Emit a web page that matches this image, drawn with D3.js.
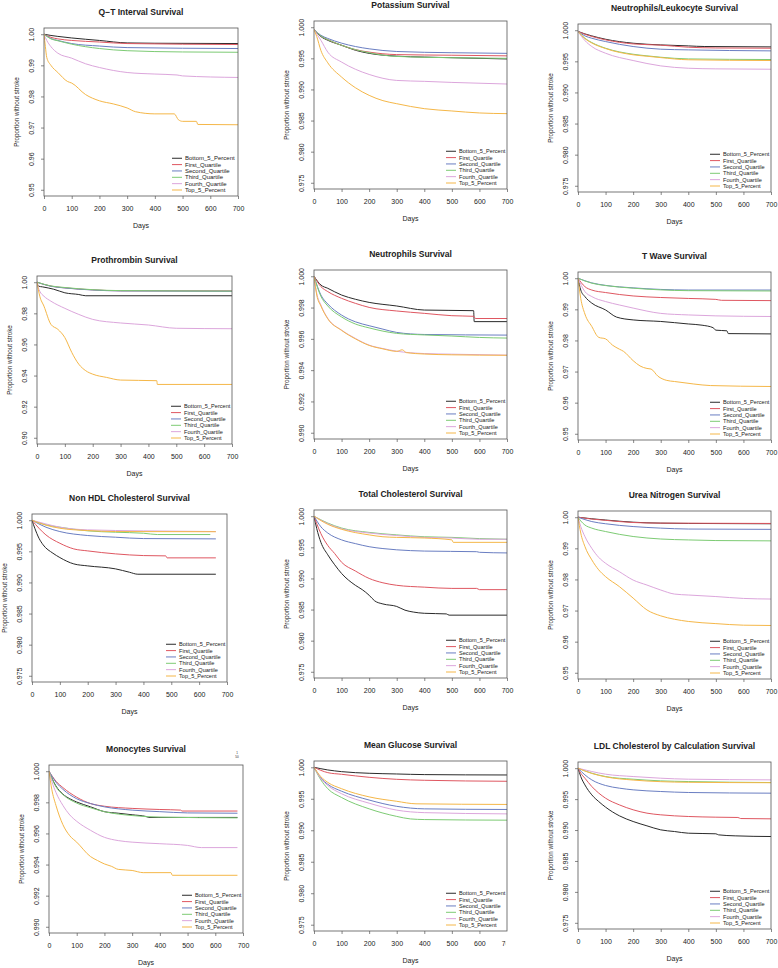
<!DOCTYPE html>
<html>
<head>
<meta charset="utf-8">
<script src="https://cdn.jsdelivr.net/npm/d3@7"></script>
<style>
  body { margin: 0; background: #fff; }
  text { font-family: "Liberation Sans", Arial, Helvetica, sans-serif; fill: #222; }
</style>
</head>
<body>
<div id="chart"></div>
<script>
// Groups and panel labels
const groups = ["Bottom_5_Percent", "First_Quartile", "Second_Quartile", "Third_Quartile", "Fourth_Quartile", "Top_5_Percent"];
const panelTitles = [
  "Q\u2212T Interval Survival", "Potassium Survival", "Neutrophils/Leukocyte Survival",
  "Prothrombin Survival", "Neutrophils Survival", "T Wave Survival",
  "Non HDL Cholesterol Survival", "Total Cholesterol Survival", "Urea Nitrogen Survival",
  "Monocytes Survival", "Mean Glucose Survival", "LDL Cholesterol by Calculation Survival"
];
const xTicks = [0, 100, 200, 300, 400, 500, 600, 700];
const yLimits = [[0.95, 1], [0.975, 1], [0.975, 1], [0.90, 1], [0.99, 1], [0.95, 1],
                 [0.975, 1], [0.975, 1], [0.95, 1], [0.99, 1], [0.975, 1], [0.975, 1]];
const yTickSteps = [0.01, 0.005, 0.005, 0.02, 0.002, 0.01, 0.005, 0.005, 0.01, 0.002, 0.005, 0.005];

// Survival curves: [day, proportion] per group, in the order of `groups`
const qtInterval = [
  [[0,1],[25,.9996],[50,.9993],[100,.9988],[200,.998],[300,.9972],[400,.9971],[700,.997]],
  [[0,1],[25,.999],[50,.9985],[100,.998],[200,.9975],[300,.997],[700,.9967]],
  [[0,1],[25,.9986],[50,.998],[100,.997],[200,.9962],[300,.9957],[700,.9954]],
  [[0,1],[25,.9985],[50,.9979],[100,.9968],[200,.9954],[300,.9947],[500,.9943],[700,.9942]],
  [[0,1],[10,.998],[25,.996],[50,.9939],[100,.9923],[150,.9905],[200,.9893],[300,.9877],[400,.9872],[480,.9869],[500,.9866],[700,.9861]],
  [[0,1],[5,.996],[10,.9925],[25,.99],[50,.9877],[85,.9848],[100,.9843],[150,.9806],[200,.9786],[250,.9776],[300,.9763],[330,.9751],[400,.9744],[470,.9744],[485,.9725],[500,.972],[550,.972],[555,.971],[700,.9709]]
];
const potassium = [
  [[0,.9996],[25,.9985],[50,.9979],[100,.9971],[150,.9963],[200,.9958],[300,.99535],[400,.9952],[500,.9951],[700,.9949]],
  [[0,.9996],[25,.9986],[50,.998],[100,.9971],[150,.9964],[200,.996],[300,.9956],[500,.9955],[700,.9954]],
  [[0,.9996],[25,.9987],[50,.9982],[100,.99744],[150,.9969],[200,.99653],[300,.9961],[500,.9959],[700,.9958]],
  [[0,.9996],[25,.9986],[50,.998],[100,.9971],[150,.9964],[200,.9959],[300,.9953],[500,.9951],[700,.995]],
  [[0,.9996],[25,.9979],[50,.996],[100,.9944],[150,.99325],[200,.99241],[300,.99145],[400,.9913],[500,.99113],[700,.99087]],
  [[0,.9996],[10,.9985],[25,.99626],[50,.99428],[100,.99199],[150,.99028],[200,.98905],[250,.9882],[300,.98771],[400,.98691],[500,.98654],[600,.98622],[700,.98611]]
];
const neutroLeuko = [
  [[0,.9998],[25,.99941],[50,.99909],[100,.99855],[200,.99791],[300,.99764],[400,.99748],[460,.99738],[700,.99732]],
  [[0,.9998],[25,.99935],[50,.999],[100,.99845],[200,.9978],[300,.9976],[400,.99727],[500,.99715],[700,.99711]],
  [[0,.9998],[25,.99909],[50,.99871],[100,.99818],[200,.99738],[300,.99695],[400,.99684],[700,.99668]],
  [[0,.9998],[25,.99871],[50,.99802],[100,.99711],[200,.99614],[250,.99588],[300,.99566],[400,.99539],[700,.99529]],
  [[0,.9998],[25,.99834],[50,.99738],[100,.9963],[200,.99513],[300,.99427],[400,.99389],[500,.99379],[700,.99373]],
  [[0,.9998],[25,.99865],[50,.99795],[100,.99705],[200,.99605],[250,.99582],[300,.9956],[400,.99525],[700,.99513]]
];
const prothrombin = [
  [[0,1],[5,.9975],[20,.997],[60,.9955],[100,.9932],[150,.9921],[175,.9913],[700,.9913]],
  [[0,1],[50,.9975],[100,.9964],[200,.9951],[300,.9945],[700,.9944]],
  [[0,1],[50,.9974],[100,.9963],[200,.995],[300,.9944],[700,.9942]],
  [[0,1],[50,.9976],[100,.9966],[200,.9952],[300,.9946],[700,.9943]],
  [[0,1],[5,.9965],[10,.9942],[25,.991],[50,.9878],[100,.9832],[150,.9793],[200,.9761],[300,.9738],[400,.9725],[500,.9704],[700,.9701]],
  [[0,1],[10,.991],[25,.9846],[50,.9729],[75,.9697],[100,.9644],[125,.9548],[150,.9473],[175,.9431],[200,.9409],[250,.9388],[300,.9371],[430,.9367],[432,.9343],[700,.9343]]
];
const neutrophils = [
  [[0,1],[25,.99944],[50,.99923],[100,.9988],[150,.99853],[200,.99833],[300,.9981],[400,.99784],[579,.9978],[581,.9971],[700,.9971]],
  [[0,1],[25,.99934],[50,.99902],[100,.99859],[150,.99827],[200,.99801],[300,.99778],[400,.99763],[500,.99748],[580,.99744],[585,.9973],[700,.9973]],
  [[0,1],[25,.9988],[50,.99823],[100,.99752],[150,.99709],[200,.99684],[250,.99662],[300,.99641],[400,.99628],[700,.99624]],
  [[0,1],[25,.99872],[50,.9981],[100,.9974],[150,.99695],[200,.9967],[300,.99635],[400,.99625],[500,.99618],[600,.99609],[700,.99605]],
  [[0,1],[10,.9989],[25,.99816],[50,.99731],[100,.99656],[150,.99603],[200,.9956],[250,.99538],[300,.99521],[400,.99506],[500,.99502],[700,.99496]],
  [[0,1],[10,.9988],[25,.9981],[50,.99728],[100,.99654],[150,.996],[200,.99558],[250,.99536],[300,.9952],[320,.9953],[335,.99512],[400,.99503],[500,.99498],[700,.99495]]
];
const tWave = [
  [[0,1],[10,.9962],[25,.9941],[50,.992],[100,.9898],[140,.9875],[200,.9866],[300,.9861],[400,.9853],[450,.9849],[490,.9841],[500,.9833],[540,.9831],[545,.9822],[700,.9821]],
  [[0,1],[25,.9973],[50,.9962],[100,.9954],[200,.9943],[300,.9938],[400,.9935],[500,.9932],[520,.9929],[700,.9928]],
  [[0,1],[50,.9985],[100,.9977],[200,.9969],[300,.9964],[400,.9962],[700,.9962]],
  [[0,1],[50,.9984],[100,.99764],[200,.9968],[300,.99625],[400,.996],[700,.9959]],
  [[0,1],[25,.9957],[50,.9941],[100,.9925],[150,.9914],[200,.9904],[300,.9887],[400,.9882],[500,.9879],[700,.9877]],
  [[0,1],[10,.9935],[25,.9885],[50,.9845],[75,.981],[100,.9805],[125,.9785],[150,.9772],[165,.9765],[200,.9735],[225,.9718],[250,.971],[265,.9708],[290,.9685],[320,.9672],[350,.9668],[420,.966],[480,.9655],[700,.9652]]
];
const nonHdl = [
  [[0,1],[10,.99871],[25,.99711],[40,.99604],[75,.9947],[100,.994],[150,.99298],[200,.99266],[300,.99218],[350,.99164],[380,.99132],[660,.99132]],
  [[0,1],[25,.99871],[50,.99764],[100,.9963],[150,.99539],[200,.99507],[300,.99459],[400,.99432],[480,.99427],[485,.99395],[660,.99395]],
  [[0,1],[25,.9994],[50,.99888],[100,.99818],[200,.99754],[300,.99727],[400,.99705],[660,.997]],
  [[0,1],[50,.99925],[100,.99888],[200,.99829],[300,.99807],[400,.99791],[450,.9977],[640,.9977]],
  [[0,1],[50,.9994],[100,.99888],[200,.99845],[400,.99829],[660,.99818]],
  [[0,1],[50,.9992],[100,.99871],[200,.99834],[300,.99818],[660,.99815]]
];
const totalChol = [
  [[0,1],[10,.998],[25,.9958],[50,.9938],[75,.9922],[100,.9908],[150,.9889],[175,.9882],[200,.9873],[220,.9864],[250,.9859],[300,.9855],[330,.9849],[360,.9846],[400,.9844],[480,.9843],[490,.9841],[700,.9841]],
  [[0,1],[10,.9988],[25,.9972],[50,.9953],[75,.994],[100,.9926],[150,.9912],[200,.99],[250,.9893],[300,.9889],[400,.9886],[500,.9884],[590,.9884],[600,.9882],[700,.9882]],
  [[0,1],[25,.9983],[50,.9973],[100,.9962],[150,.9956],[200,.9951],[250,.9948],[300,.9946],[400,.9944],[590,.9943],[600,.9942],[700,.9941]],
  [[0,1],[50,.9989],[100,.9981],[200,.9974],[300,.997],[400,.9967],[500,.9966],[600,.9964],[700,.9963]],
  [[0,1],[50,.9988],[100,.998],[200,.9973],[300,.9969],[400,.9966],[500,.9965],[600,.9963],[700,.9963]],
  [[0,1],[50,.9987],[100,.9979],[200,.997],[250,.9967],[300,.9966],[400,.9965],[500,.9962],[505,.9958],[700,.9958]]
];
const ureaNitrogen = [
  [[0,1],[50,.9995],[100,.9991],[200,.9984],[300,.9981],[400,.998],[700,.9979]],
  [[0,1],[50,.9994],[100,.999],[200,.9983],[300,.9981],[700,.998]],
  [[0,1],[50,.9986],[100,.9979],[200,.997],[300,.9965],[400,.9962],[700,.9961]],
  [[0,1],[10,.9988],[25,.9975],[50,.9965],[100,.9954],[200,.9938],[300,.993],[400,.9927],[500,.9925],[700,.9924]],
  [[0,1],[10,.997],[25,.9938],[50,.99],[75,.9871],[100,.9852],[150,.9825],[200,.9798],[250,.9782],[300,.9766],[350,.9753],[400,.975],[500,.9745],[600,.9739],[700,.9737]],
  [[0,1],[10,.9949],[25,.9906],[50,.9863],[75,.9831],[100,.9809],[150,.9777],[200,.974],[250,.9702],[300,.9683],[350,.9672],[400,.9665],[500,.9658],[600,.9653],[700,.9652]]
];
const monocytes = [
  [[0,1],[25,.99905],[50,.99853],[75,.99823],[100,.99802],[150,.99771],[200,.9974],[250,.9973],[300,.9972],[350,.99709],[360,.99703],[680,.99703]],
  [[0,1],[25,.99936],[50,.99895],[100,.99833],[150,.99792],[200,.99775],[300,.99761],[400,.99754],[475,.9975],[480,.99744],[680,.99744]],
  [[0,1],[25,.9993],[50,.99884],[100,.99823],[150,.99792],[200,.99771],[300,.9975],[400,.9974],[500,.99732],[680,.9973]],
  [[0,1],[25,.999],[50,.9985],[100,.99795],[150,.99765],[200,.9974],[300,.99715],[400,.99705],[680,.997]],
  [[0,1],[10,.99936],[25,.99864],[50,.99781],[75,.99719],[100,.99678],[150,.9962],[200,.99575],[250,.99554],[300,.99544],[400,.99534],[500,.99523],[550,.99509],[680,.99509]],
  [[0,1],[10,.99884],[25,.99781],[50,.99657],[75,.99585],[100,.99544],[150,.99451],[175,.99426],[200,.99404],[225,.99389],[250,.99369],[300,.99362],[340,.99348],[440,.99348],[445,.99331],[680,.99331]]
];
const meanGlucose = [
  [[0,1],[50,.99958],[100,.99931],[200,.99905],[300,.99894],[400,.99884],[700,.99878]],
  [[0,1],[50,.99915],[100,.99889],[200,.99841],[300,.99809],[400,.99794],[700,.99778]],
  [[0,1],[25,.9983],[50,.9973],[100,.9962],[200,.9948],[300,.9938],[400,.9934],[700,.9933]],
  [[0,1],[25,.998],[50,.9966],[100,.9952],[200,.9934],[300,.9922],[350,.9918],[400,.9917],[700,.9916]],
  [[0,1],[25,.9982],[50,.9971],[100,.9958],[200,.9943],[300,.9932],[400,.9928],[700,.9926]],
  [[0,1],[25,.9985],[50,.9976],[100,.9966],[200,.9953],[300,.9946],[370,.9942],[700,.9941]]
];
const ldlCalc = [
  [[0,1],[10,.99865],[25,.9973],[50,.99569],[75,.99461],[100,.9937],[150,.9923],[200,.99138],[250,.99068],[300,.99003],[350,.98976],[400,.98949],[500,.98939],[510,.98922],[570,.98906],[700,.98895]],
  [[0,1],[10,.99919],[25,.99838],[50,.99704],[100,.99515],[150,.99407],[200,.99327],[250,.99273],[300,.99246],[400,.99219],[500,.99208],[580,.99203],[590,.99186],[700,.99181]],
  [[0,1],[25,.99892],[50,.99811],[100,.9972],[150,.99677],[200,.9965],[300,.99623],[400,.99607],[700,.99596]],
  [[0,1],[50,.99919],[100,.99865],[200,.99822],[300,.99795],[400,.99784],[700,.99768]],
  [[0,1],[50,.99946],[100,.99903],[200,.99865],[300,.99838],[400,.99822],[700,.99811]],
  [[0,1],[50,.99915],[100,.9986],[200,.99808],[300,.99782],[400,.99772],[700,.99765]]
];

const panelData = [qtInterval, potassium, neutroLeuko, prothrombin, neutrophils, tWave,
                   nonHdl, totalChol, ureaNitrogen, monocytes, meanGlucose, ldlCalc];

// Layout: plot box [left, top, right, bottom] for each panel (page pixels)
const boxes = [
  [44, 28, 238, 196], [314, 21, 507, 189], [578, 24, 771, 192],
  [37, 276, 232, 444], [314, 270, 507, 439], [578, 272, 771, 440],
  [32, 514, 227, 682], [314, 510, 507, 678], [578, 511, 771, 679],
  [49, 765, 243, 933], [314, 761, 507, 931], [578, 762, 771, 929]
];
const colors = ["#2a2a2a", "#df5761", "#6a7ec2", "#7dcb74", "#dca6dc", "#f5b748"];

const svg = d3.select("#chart").append("svg")
    .attr("width", 778)
    .attr("height", 968);

panelData.forEach((series, i) => drawPanel(series, i));

function drawPanel(series, i) {
    const [x0, y0, x1, y1] = boxes[i];
    const [lo, hi] = yLimits[i];
    const pad = (hi - lo) * 0.04;
    const x = d3.scaleLinear().domain([0, 700]).range([x0, x1]);
    const y = d3.scaleLinear().domain([lo - pad, hi + pad]).range([y1, y0]);
    const cx = (x0 + x1) / 2, cy = (y0 + y1) / 2;

    const g = svg.append("g");

    svg.append("clipPath").attr("id", "box" + i)
        .append("rect").attr("x", x0).attr("y", y0).attr("width", x1 - x0).attr("height", y1 - y0);

    const line = d3.line()
        .x(d => x(d[0]))
        .y(d => y(d[1]))
        .curve(d3.curveMonotoneX);

    g.append("g").attr("clip-path", `url(#box${i})`)
        .selectAll("path")
        .data(series)
        .enter().append("path")
        .attr("d", line)
        .attr("fill", "none")
        .attr("stroke", (d, k) => colors[k])
        .attr("stroke-width", 1);

    // box
    g.append("rect")
        .attr("x", x0).attr("y", y0)
        .attr("width", x1 - x0).attr("height", y1 - y0)
        .attr("fill", "none")
        .attr("stroke", "#555")
        .attr("stroke-width", 0.8);

    // x axis
    const xa = g.append("g")
        .attr("transform", `translate(0,${y1})`)
        .call(d3.axisBottom(x).tickValues(xTicks).tickSize(3).tickPadding(7.5).tickFormat(d3.format("d")));
    xa.select(".domain").remove();
    xa.selectAll(".tick line").attr("stroke", "#555").attr("stroke-width", 0.7);
    xa.selectAll(".tick text").attr("font-size", 7).attr("font-family", null).attr("fill", "#222");

    // the glucose panel's last tick label is cut by the image edge in the source
    if (i === 10) {
        svg.append("clipPath").attr("id", "crop" + i)
            .append("rect").attr("x", 0).attr("y", -20).attr("width", x1 - 1.5).attr("height", 60);
        xa.attr("clip-path", `url(#crop${i})`);
    }

    // y axis
    const step = yTickSteps[i];
    const yTicks = d3.range(lo, hi + step / 2, step);
    const fmt = d3.format(step >= 0.01 ? ".2f" : ".3f");
    const ya = g.append("g")
        .attr("transform", `translate(${x0},0)`)
        .call(d3.axisLeft(y).tickValues(yTicks).tickSize(3).tickFormat(fmt));
    ya.select(".domain").remove();
    ya.selectAll(".tick line").attr("stroke", "#555").attr("stroke-width", 0.7);
    ya.selectAll(".tick text")
        .attr("x", null).attr("dy", null)
        .attr("transform", "translate(-12.5,0) rotate(-90)")
        .attr("text-anchor", "middle")
        .attr("dominant-baseline", "central")
        .attr("font-size", 7).attr("font-family", null).attr("fill", "#222");

    // titles
    g.append("text")
        .attr("x", cx).attr("y", y0 - 16)
        .attr("text-anchor", "middle")
        .attr("dominant-baseline", "central")
        .attr("font-size", 8.5)
        .attr("font-weight", "bold")
        .text(panelTitles[i]);

    g.append("text")
        .attr("x", cx).attr("y", y1 + 29)
        .attr("text-anchor", "middle")
        .attr("dominant-baseline", "central")
        .attr("font-size", 7)
        .text("Days");

    g.append("text")
        .attr("transform", `translate(${x0 - 28},${cy}) rotate(-90)`)
        .attr("text-anchor", "middle")
        .attr("dominant-baseline", "central")
        .attr("font-size", 6.3)
        .text("Proportion without stroke");

    // legend, bottom right inside the box
    const big = i === 0;
    const fs = big ? 6.0 : 5.6;
    const lineStart = big ? x1 - 66 : x1 - 61;
    const textStart = big ? x1 - 53 : x1 - 48;
    const leg = g.append("g");
    groups.forEach((name, k) => {
        const ly = y1 - 6 - (groups.length - 1 - k) * 6.35;
        leg.append("line")
            .attr("x1", lineStart).attr("x2", lineStart + 10)
            .attr("y1", ly).attr("y2", ly)
            .attr("stroke", colors[k]).attr("stroke-width", 1);
        leg.append("text")
            .attr("x", textStart).attr("y", ly)
            .attr("dominant-baseline", "central")
            .attr("font-size", fs)
            .attr("fill", "#333")
            .text(name);
    });
}

// stray mark above the monocytes panel in the source
svg.append("text").attr("x", 237).attr("y", 754).attr("text-anchor", "middle")
    .attr("font-size", 3).attr("fill", "#666").text("1");
svg.append("text").attr("x", 237).attr("y", 758).attr("text-anchor", "middle")
    .attr("font-size", 3).attr("fill", "#666").text("50");
</script>
</body>
</html>
